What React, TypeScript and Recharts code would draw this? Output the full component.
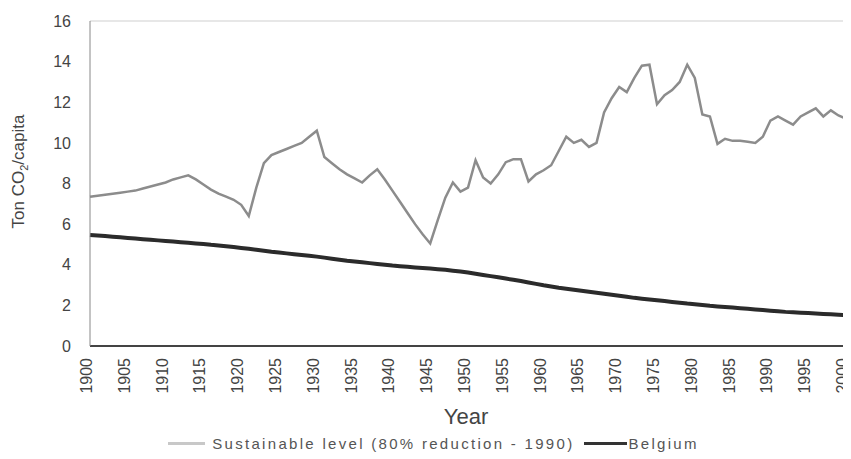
import { LineChart, Line, XAxis, YAxis, Legend, ReferenceLine, Label } from 'recharts';

const years = [
    1900, 1901, 1902, 1903, 1904, 1905, 1906, 1907, 1908, 1909,
    1910, 1911, 1912, 1913, 1914, 1915, 1916, 1917, 1918, 1919,
    1920, 1921, 1922, 1923, 1924, 1925, 1926, 1927, 1928, 1929,
    1930, 1931, 1932, 1933, 1934, 1935, 1936, 1937, 1938, 1939,
    1940, 1941, 1942, 1943, 1944, 1945, 1946, 1947, 1948, 1949,
    1950, 1951, 1952, 1953, 1954, 1955, 1956, 1957, 1958, 1959,
    1960, 1961, 1962, 1963, 1964, 1965, 1966, 1967, 1968, 1969,
    1970, 1971, 1972, 1973, 1974, 1975, 1976, 1977, 1978, 1979,
    1980, 1981, 1982, 1983, 1984, 1985, 1986, 1987, 1988, 1989,
    1990, 1991, 1992, 1993, 1994, 1995, 1996, 1997, 1998, 1999,
    2000,
];

// light grey, fluctuating line
const sustainableLevel = [
    7.35, 7.4, 7.45, 7.5, 7.55, 7.6, 7.65, 7.75, 7.85, 7.95,
    8.05, 8.2, 8.3, 8.4, 8.2, 7.95, 7.7, 7.5, 7.35, 7.2,
    6.95, 6.4, 7.8, 9.0, 9.4, 9.55, 9.7, 9.85, 10.0, 10.3,
    10.6, 9.3, 9.0, 8.7, 8.45, 8.25, 8.05, 8.4, 8.7, 8.2,
    7.65, 7.1, 6.55, 6.0, 5.5, 5.05, 6.2, 7.3, 8.05, 7.6,
    7.8, 9.15, 8.3, 8.0, 8.45, 9.05, 9.2, 9.2, 8.1, 8.45,
    8.65, 8.9, 9.6, 10.3, 10.0, 10.15, 9.8, 10.0, 11.5, 12.2,
    12.75, 12.5, 13.2, 13.8, 13.85, 11.9, 12.35, 12.6, 13.0, 13.85,
    13.2, 11.4, 11.3, 9.95, 10.2, 10.1, 10.1, 10.05, 10.0, 10.3,
    11.1, 11.3, 11.1, 10.9, 11.3, 11.5, 11.7, 11.3, 11.6, 11.35,
    11.2,
];

// dark, thick declining line
const belgium = [
    5.47, 5.44, 5.41, 5.38, 5.35, 5.32, 5.29, 5.26, 5.23, 5.2,
    5.17, 5.14, 5.11, 5.08, 5.05, 5.02, 4.98, 4.95, 4.91, 4.87,
    4.83, 4.79, 4.74, 4.69, 4.64, 4.6, 4.56, 4.52, 4.48, 4.44,
    4.4, 4.35, 4.3, 4.25, 4.2, 4.16, 4.12, 4.08, 4.04, 4.0,
    3.96, 3.93, 3.9, 3.87, 3.84, 3.81, 3.78, 3.75, 3.71, 3.67,
    3.62, 3.56, 3.5, 3.44, 3.38, 3.32, 3.26, 3.2, 3.13, 3.06,
    2.99, 2.93, 2.87, 2.82, 2.77, 2.72, 2.67, 2.62, 2.57, 2.52,
    2.47, 2.42, 2.37, 2.33, 2.29, 2.25, 2.21, 2.17, 2.13, 2.09,
    2.06, 2.02, 1.98, 1.95, 1.92, 1.89, 1.86, 1.83, 1.8, 1.77,
    1.74, 1.71, 1.68, 1.66, 1.64, 1.62, 1.6, 1.58, 1.56, 1.54,
    1.52,
];

const xTicks = [
    1900, 1905, 1910, 1915, 1920, 1925, 1930, 1935, 1940, 1945, 1950,
    1955, 1960, 1965, 1970, 1975, 1980, 1985, 1990, 1995, 2000,
];
const yTicks = [0, 2, 4, 6, 8, 10, 12, 14, 16];

const data = years.map((year, i) => ({
    year,
    sustainable: sustainableLevel[i],
    belgium: belgium[i],
}));

const FONT = '"Liberation Sans", Arial, Helvetica, sans-serif';
const TEXT = '#444';

function YearTick(props: any) {
    const { x, y, payload } = props;
    return (
        <g transform={`translate(${x - 2},${y + 12})`}>
            <text
                x={0}
                y={0}
                dy={4}
                transform="rotate(-90)"
                textAnchor="end"
                fontSize={16}
                fontFamily={FONT}
                fill={TEXT}
            >
                {payload.value}
            </text>
        </g>
    );
}

const legendOrder = ['sustainable', 'belgium'];
const swatch: Record<string, { color: string; h: number; w: number; gap: number }> = {
    sustainable: { color: '#c8c8c8', h: 3, w: 37, gap: 7 },
    belgium: { color: '#333', h: 3, w: 43, gap: 1 },
};

function renderLegend(props: any) {
    const items = [...(props.payload || [])].sort(
        (a: any, b: any) => legendOrder.indexOf(a.dataKey) - legendOrder.indexOf(b.dataKey)
    );
    return (
        <div
            style={{
                display: 'flex',
                alignItems: 'center',
                justifyContent: 'center',
                fontFamily: FONT,
                fontSize: 15,
                letterSpacing: 2.3,
                color: '#555',
                paddingLeft: 8,
            }}
        >
            {items.map((entry: any, i: number) => {
                const s = swatch[entry.dataKey];
                return (
                    <div key={i} style={{ display: 'flex', alignItems: 'center', marginLeft: i > 0 ? 10 : 0 }}>
                        <span style={{ display: 'inline-block', width: s.w, height: s.h, background: s.color, marginRight: s.gap }} />
                        <span>{entry.value}</span>
                    </div>
                );
            })}
        </div>
    );
}

export default function App() {
    return (
        <div style={{ width: 843, height: 451, background: '#fff' }}>
            <LineChart width={843} height={451} data={data} margin={{ top: 13, right: 5, bottom: 0, left: 0 }}>
                <XAxis
                    dataKey="year"
                    type="number"
                    domain={[1900, 2000]}
                    ticks={xTicks}
                    interval={0}
                    height={113}
                    tickLine={false}
                    tickSize={0}
                    tickMargin={0}
                    axisLine={{ stroke: '#444', strokeWidth: 2 }}
                    tick={<YearTick />}
                >
                    <Label
                        content={(p: any) => (
                            <text
                                x={p.viewBox.x + p.viewBox.width / 2 - 2}
                                y={p.viewBox.y + 78}
                                textAnchor="middle"
                                fontSize={22}
                                fontFamily={FONT}
                                fill={TEXT}
                            >
                                Year
                            </text>
                        )}
                    />
                </XAxis>
                <YAxis
                    domain={[0, 16]}
                    ticks={yTicks}
                    interval={0}
                    width={82}
                    tickLine={false}
                    tickSize={0}
                    tickMargin={19}
                    axisLine={{ stroke: '#888', strokeWidth: 1 }}
                    tick={{ fontSize: 16, fontFamily: FONT, fill: TEXT }}
                >
                    <Label
                        content={(p: any) => (
                            <text
                                transform={`translate(16,${p.viewBox.y + p.viewBox.height / 2 - 12}) rotate(-90)`}
                                textAnchor="middle"
                                fontSize={17}
                                fontFamily={FONT}
                                fill={TEXT}
                            >
                                <tspan>Ton CO</tspan>
                                <tspan fontSize={11} dy={4}>2</tspan>
                                <tspan dy={-4}>/capita</tspan>
                            </text>
                        )}
                    />
                </YAxis>
                <ReferenceLine y={16} stroke="#cfcfcf" strokeWidth={1} />
                <ReferenceLine x={2000} stroke="#cfcfcf" strokeWidth={1} />
                <Line
                    type="linear"
                    dataKey="sustainable"
                    name="Sustainable level (80% reduction - 1990)"
                    stroke="#8c8c8c"
                    strokeWidth={2.5}
                    dot={false}
                    isAnimationActive={false}
                />
                <Line
                    type="linear"
                    dataKey="belgium"
                    name="Belgium"
                    stroke="#2b2b2b"
                    strokeWidth={4}
                    dot={false}
                    isAnimationActive={false}
                />
                <Legend
                    layout="horizontal"
                    verticalAlign="middle"
                    align="center"
                    content={renderLegend}
                    wrapperStyle={{ top: 427, left: 0, width: 843 }}
                />
            </LineChart>
        </div>
    );
}
